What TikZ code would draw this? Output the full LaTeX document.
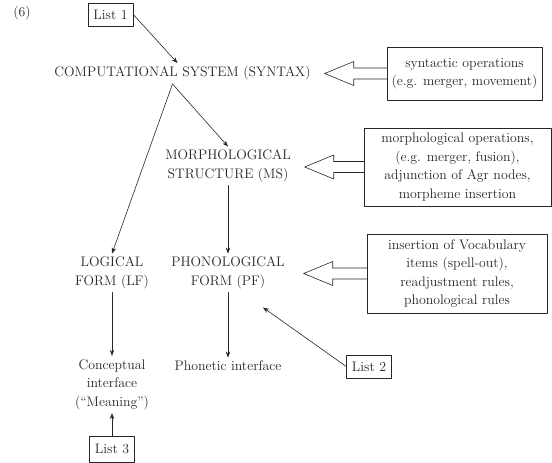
\documentclass[tikz,border=0pt]{standalone}
\usepackage{fontspec}
\usepackage{tikz}
\usetikzlibrary{arrows.meta,calc}
\newcommand{\MainColor}{black!85}
\newcommand{\opsarrow}[2]{\draw[fat] (#1.west) ++(0,-5.5) -- ++(-#2,0) -- ++(0,-6.5) -- ++(-29,12) -- ++(29,12) -- ++(0,-6.5) -- ++(#2,0);}

\begin{document}
\begin{tikzpicture}[line cap=round,line join=round,>={Stealth[length=6pt,width=4.5pt]},x=1pt,y=-1pt,
  every node/.style={font=\fontsize{13.8}{18.5}\selectfont,text=\MainColor,align=center},
  listbox/.style={draw=\MainColor,line width=0.6pt,minimum width=45pt,minimum height=23pt,inner sep=2pt},
  opbox/.style={draw=\MainColor,line width=0.6pt,inner sep=2pt},
  link/.style={->,draw=\MainColor,line width=0.6pt},
  fat/.style={draw=\MainColor,line width=0.6pt,line join=miter}]
  \useasboundingbox (0,0) rectangle (552,463);
  \node (num) at (22,13) {(6)};
  \node[listbox] (list1) at (110.5,14.5) {List 1};
  \node[listbox] (list2) at (369,366.5) {List 2};
  \node[listbox,minimum height=26pt] (list3) at (112,449) {List 3};
  \node (cs) at (182.5,73.5) {COMPUTATIONAL SYSTEM (SYNTAX)};
  \node (ms) at (228,166) {MORPHOLOGICAL\\STRUCTURE (MS)};
  \node (lf) at (112,273) {LOGICAL\\FORM (LF)};
  \node (pf) at (228,273) {PHONOLOGICAL\\FORM (PF)};
  \node (ci) at (112,384.5) {Conceptual\\interface\\(``Meaning'')};
  \node (pi) at (228,366) {Phonetic interface};
  % operation boxes
  \node[opbox,minimum width=155pt,minimum height=53pt] (syn) at (464.5,73.5) {syntactic operations\\(e.g. merger, movement)};
  \node[opbox,minimum width=187pt,minimum height=78pt] (morph) at (457.5,167) {morphological operations,\\(e.g. merger, fusion),\\adjunction of Agr nodes,\\morpheme insertion};
  \node[opbox,minimum width=180pt,minimum height=79pt] (ins) at (457,273.5) {insertion of Vocabulary\\items (spell-out),\\readjustment rules,\\phonological rules};
  \opsarrow{syn}{33}
  \opsarrow{morph}{30}
  \opsarrow{ins}{34}
  % connectors
  \draw[link] (list1.east) -- ([xshift=-5pt]cs.north);
  \draw[link] ([xshift=-10pt]cs.south) -- (ms.north);
  \draw[link] ([xshift=-10pt]cs.south) -- (lf.north);
  \draw[link] (ms.south) -- (pf.north);
  \draw[link] (lf.south) -- (ci.north);
  \draw[link] (pf.south) -- (pi.north);
  \draw[link] (list2.west) -- ([xshift=35pt,yshift=-15pt]pf.south);
  \draw[link] (list3.north) -- (ci.south);
\end{tikzpicture}
\end{document}
